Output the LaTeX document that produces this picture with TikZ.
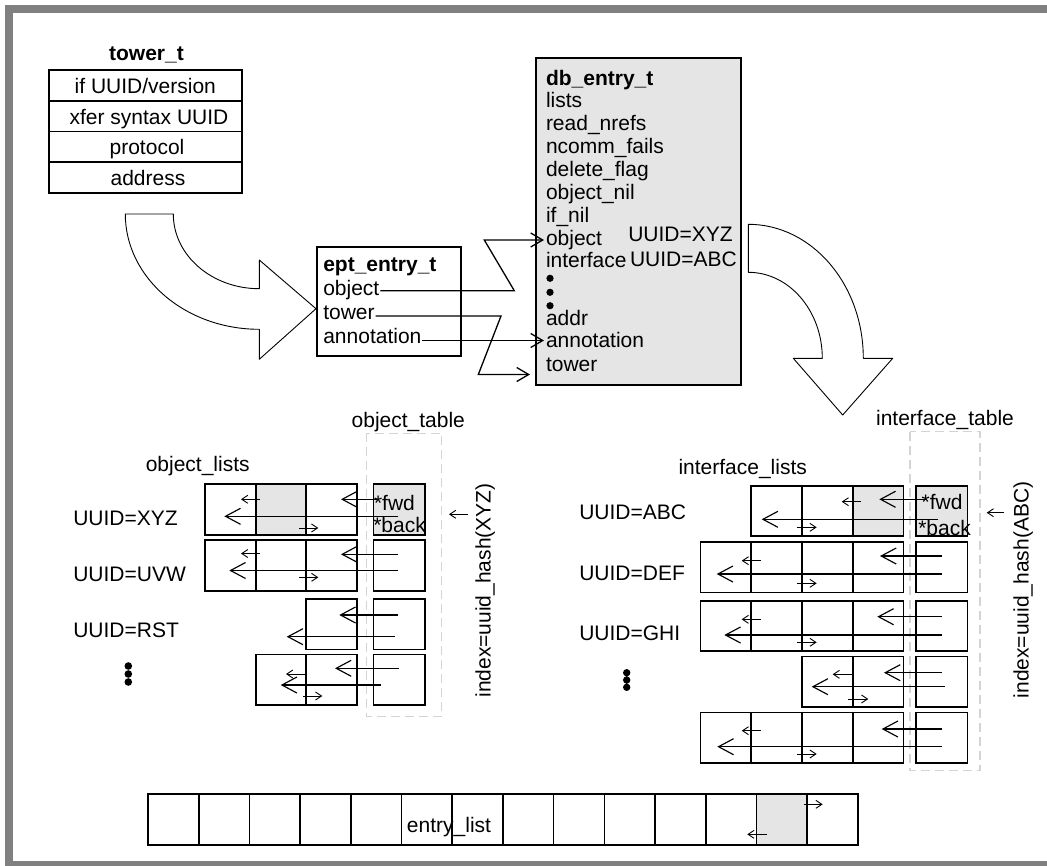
\documentclass[tikz,border=0pt]{standalone}
\usepackage{fontspec}
\setmainfont{Liberation Sans}
\usetikzlibrary{arrows.meta,calc}
\definecolor{framegray}{RGB}{128,128,128}
\definecolor{cellgray}{RGB}{229,229,229}
\definecolor{dashgray}{RGB}{212,212,212}
\newcommand{\dgfont}{\fontsize{21}{23}\selectfont}
\tikzset{
  every node/.style={font=\dgfont, inner sep=0pt, outer sep=0pt},
  lbl/.style={anchor=base west},
  lblc/.style={anchor=base},
  boldlbl/.style={font=\dgfont\bfseries},
  cellbox/.style={draw=black, line width=1.6pt},
  ptr/.style={line width=1.15pt, -{Straight Barb[length=15pt,width=16pt]}},
  tinyptr/.style={line width=0.9pt, -{Straight Barb[length=6pt,width=8pt]}},
  eptptr/.style={line width=1.3pt, -{Straight Barb[length=12pt,width=14pt]}},
  bigarrow/.style={draw=black, fill=white, line width=0.9pt, line join=round},
  dashbox/.style={draw=dashgray, line width=1.5pt, dash pattern=on 9pt off 5pt},
  dotmark/.style={fill=black},
}
\begin{document}
\begin{tikzpicture}[x=1pt,y=-1pt]
\useasboundingbox (0,0) rectangle (1047,865);
\clip (0,0) rectangle (1047,865);
% frame
\draw[framegray, line width=8pt] (9,9) rectangle (1090,865);

% ---------------- tower_t ----------------
\node[boldlbl, lblc] (towtitle) at (146.5,60.5) {tower\_t};
\draw[cellbox] (48.7,70) rectangle (242,192.7);
\draw[cellbox] (48.7,100.7) -- (242,100.7) (48.7,131.3) -- (242,131.3) (48.7,162) -- (242,162);
\node[lblc] (tw1) at (145.3,93.3) {if UUID/version};
\node[lblc] (tw2) at (149,124) {xfer syntax UUID};
\node[lblc] (tw3) at (147,154.7) {protocol};
\node[lblc] (tw4) at (148,185.3) {address};

% curved arrow 1
\draw[bigarrow] (125.3,214) -- (173.3,214)
  .. controls (173.3,255.3) and (211.8,288.7) .. (259.3,288.7)
  -- (259.3,260) -- (316,308.7) -- (259.3,359.3) -- (259.3,329.3)
  .. controls (185.3,329.3) and (125.3,277.7) .. (125.3,214) -- cycle;

% ---------------- ept_entry_t ----------------
\draw[cellbox] (316.7,246.7) rectangle (461,355.7);
\node[lbl, boldlbl] (epttitle) at (323.3,271) {ept\_entry\_t};
\node[lbl] (eobj) at (323.3,295) {object};
\node[lbl] (etow) at (323.3,319) {tower};
\node[lbl] (eann) at (323.3,343) {annotation};

% ---------------- db_entry_t ----------------
\draw[cellbox, fill=cellgray] (535.7,57.7) rectangle (740.7,385);
\node[lbl, boldlbl] (dbtitle) at (546,85) {db\_entry\_t};
\node[lbl] (dblists) at (546,107.7) {lists};
\node[lbl] (dbread) at (546,130.5) {read\_nrefs};
\node[lbl] (dbncomm) at (546,153.5) {ncomm\_fails};
\node[lbl] (dbdel) at (546,176.7) {delete\_flag};
\node[lbl] (dbobjnil) at (546,199.7) {object\_nil};
\node[lbl] (dbifnil) at (546,222.3) {if\_nil};
\node[lbl] (dbobj) at (546,245) {object};
\node[lbl] (dbif) at (546,267.7) {interface};
\node[lbl] (dbxyz) at (628.3,241.7) {UUID=XYZ};
\node[lbl] (dbabc) at (630,266.7) {UUID=ABC};
\fill[dotmark] (550,278.3) circle (3.6) (550,292.3) circle (3.6) (550,305.7) circle (3.6);
\node[lbl] (dbaddr) at (546,325) {addr};
\node[lbl] (dbann) at (546,347) {annotation};
\node[lbl] (dbtow) at (546,371.5) {tower};

% pointers ept -> db
\coordinate (towtip) at (530,374.5);
\draw[eptptr] ($(eobj.base east)+(1,-4.3)$) -- (514.3,290.7) -- (484.3,240) -- ($(dbobj.base west)+(-2,-5)$);
\draw[eptptr] ($(etow.base east)+(1,-3)$) -- (501,316) -- (478.3,374.5) -- (towtip);
\draw[eptptr] ($(eann.base east)+(1,-2.5)$) -- ($(dbann.base west)+(-2,-6.5)$);

% curved arrow 2
\draw[bigarrow] (748.3,224.3)
  .. controls (811.8,224.3) and (863.3,284.3) .. (863.3,358.3)
  -- (892.7,358.3) -- (842.7,415) -- (793.3,358.3) -- (822.3,358.3)
  .. controls (822.3,310.8) and (789.2,272.3) .. (748.3,272.3) -- cycle;

% ---------------- object lists ----------------
\draw[dashbox] (366.7,433.3) rectangle (441.7,716.7);
\node[lblc] (objtab) at (408.3,427.7) {object\_table};
\node[lblc] (objlists) at (197.7,471.7) {object\_lists};
\fill[cellgray] (255.7,484) rectangle (306,534.7);
\fill[cellgray] (373.3,484) rectangle (425,534.7);
% row 1
\draw[cellbox] (204.7,484) rectangle (356.7,534.7) (255.7,484) -- (255.7,534.7) (306,484) -- (306,534.7);
\draw[cellbox] (373.3,484) rectangle (425,534.7);
% row 2
\draw[cellbox] (204.7,540) rectangle (356.7,591) (255.7,540) -- (255.7,591) (306,540) -- (306,591);
\draw[cellbox] (373.3,540) rectangle (425,591);
% row 3
\draw[cellbox] (306,598.7) rectangle (356.7,649.3);
\draw[cellbox] (373.3,598.7) rectangle (425,649.3);
% row 4
\draw[cellbox] (255.7,654.3) rectangle (356.7,705) (306,654.3) -- (306,705);
\draw[cellbox] (373.3,654.3) rectangle (425,705);
% pointers
\draw[ptr] (376.7,499.3) -- (341,499.3);
\draw[ptr] (398.3,516.3) -- (224.3,516.3);
\draw[tinyptr] (260,499.3) -- (241,499.3);
\draw[tinyptr] (299.3,528) -- (318.3,528);
\draw[ptr] (398.3,554.3) -- (341,554.3);
\draw[ptr] (398.3,570.5) -- (229.3,570.5);
\draw[tinyptr] (260,553.5) -- (241,553.5);
\draw[tinyptr] (299.3,577.3) -- (318.3,577.3);
\draw[ptr] (398.3,615) -- (339.3,615);
\draw[ptr] (395,636.7) -- (286.7,636.7);
\draw[ptr] (399,668.3) -- (335,668.3);
\draw[ptr] (380.7,685) -- (280.7,685);
\draw[tinyptr] (305,674) -- (286,674);
\draw[tinyptr] (303.3,696) -- (322.3,696);
% labels
\node[lbl] (uxyz) at (73.3,525) {UUID=XYZ};
\node[lbl] (uuvw) at (73.3,581.7) {UUID=UVW};
\node[lbl] (urst) at (73.3,637.3) {UUID=RST};
\fill[dotmark] (128.3,666) circle (3.8) (128.3,674) circle (3.8) (128.3,682) circle (3.8);
\node[lbl] (objfwd) at (374,510) {*fwd};
\node[lbl] (objback) at (373.3,532.3) {*back};
\draw[tinyptr] (468,514.3) -- (449,514.3);
\node[lblc, rotate=90] (objidx) at (490.5,590.5) {index=uuid\_hash(XYZ)};

% ---------------- interface lists ----------------
\draw[dashbox] (910,431.7) rectangle (980,770.7);
\node[lblc] (iftab) at (945,425) {interface\_table};
\node[lblc] (iflists) at (742.7,474.3) {interface\_lists};
\fill[cellgray] (852.7,485.7) rectangle (903.3,536);
\fill[cellgray] (916,485.7) rectangle (967.3,536);
% row 1
\draw[cellbox] (751,485.7) rectangle (903.3,536) (801.7,485.7) -- (801.7,536) (852.7,485.7) -- (852.7,536);
\draw[cellbox] (916,485.7) rectangle (967.3,536);
% row 2
\draw[cellbox] (700.3,541.7) rectangle (903.3,592.3) (751,541.7) -- (751,592.3) (801.7,541.7) -- (801.7,592.3) (852.7,541.7) -- (852.7,592.3);
\draw[cellbox] (916,541.7) rectangle (967.3,592.3);
% row 3
\draw[cellbox] (700.3,600.7) rectangle (903.3,650.7) (751,600.7) -- (751,650.7) (801.7,600.7) -- (801.7,650.7) (852.7,600.7) -- (852.7,650.7);
\draw[cellbox] (916,600.7) rectangle (967.3,650.7);
% row 4
\draw[cellbox] (801.7,656.3) rectangle (903.3,706.7) (852.7,656.3) -- (852.7,706.7);
\draw[cellbox] (916,656.3) rectangle (967.3,706.7);
% row 5
\draw[cellbox] (700.3,712.3) rectangle (903.3,762.7) (751,712.3) -- (751,762.7) (801.7,712.3) -- (801.7,762.7) (852.7,712.3) -- (852.7,762.7);
\draw[cellbox] (916,712.3) rectangle (967.3,762.7);
% pointers
\draw[ptr] (926.7,499.3) -- (879.3,499.3);
\draw[ptr] (938.3,519.3) -- (761.7,519.3);
\draw[tinyptr] (861,501.7) -- (841.7,501.7);
\draw[tinyptr] (797.3,527.3) -- (816.7,527.3);
\draw[ptr] (941.7,556) -- (880,556);
\draw[ptr] (941.7,574) -- (716.7,574);
\draw[tinyptr] (761,560.7) -- (741.7,560.7);
\draw[tinyptr] (797.3,583.3) -- (816.7,583.3);
\draw[ptr] (941.7,616.7) -- (877.3,616.7);
\draw[ptr] (941.7,635) -- (724.3,635);
\draw[tinyptr] (761,619.3) -- (741.7,619.3);
\draw[tinyptr] (797.3,642.3) -- (816.7,642.3);
\draw[ptr] (941.7,672.7) -- (884,672.7);
\draw[ptr] (945,686.7) -- (811.7,686.7);
\draw[tinyptr] (851.7,674.3) -- (832.7,674.3);
\draw[tinyptr] (848.3,699) -- (868.3,699);
\draw[ptr] (941.7,729) -- (881.7,729);
\draw[ptr] (941.7,746.7) -- (717.3,746.7);
\draw[tinyptr] (761,730.7) -- (741.7,730.7);
\draw[tinyptr] (797.3,754) -- (816.7,754);
% labels
\node[lbl] (uabc) at (579.3,519) {UUID=ABC};
\node[lbl] (udef) at (579.3,580.7) {UUID=DEF};
\node[lbl] (ughi) at (579.3,640.7) {UUID=GHI};
\fill[dotmark] (626.7,672.7) circle (3.7) (626.7,680) circle (3.7) (626.7,687.3) circle (3.7);
\node[lbl] (iffwd) at (921.7,509.3) {*fwd};
\node[lbl] (ifback) at (918.3,535) {*back};
\draw[tinyptr] (1004.3,512.7) -- (986.7,512.7);
\node[lblc, rotate=90] (ifidx) at (1028.6,590) {index=uuid\_hash(ABC)};

% ---------------- entry_list ----------------
\fill[cellgray] (756.4,794) rectangle (807.1,845);
\draw[cellbox] (148,794) rectangle (857.8,845);
\foreach \i in {1,...,13} {
  \draw[cellbox] ({148+50.7*\i},794) -- ({148+50.7*\i},845);
}
\node[lblc] (entrylist) at (449,832.3) {entry\_list};
\draw[tinyptr] (804,804.3) -- (822.7,804.3);
\draw[tinyptr] (766.7,834.3) -- (747.3,834.3);
\end{tikzpicture}
\end{document}
